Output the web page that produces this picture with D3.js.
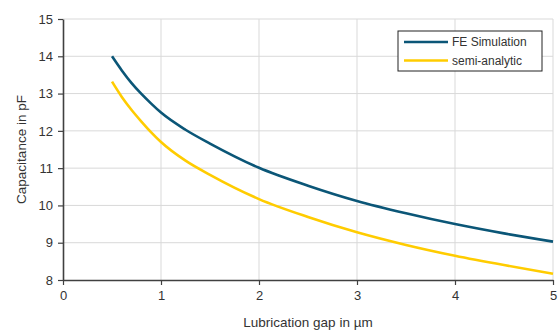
<!DOCTYPE html>
<html>
  <head>
    <meta charset="utf-8">
    <script src="https://d3js.org/d3.v7.min.js"></script>
    <style>
      body { margin: 0; background: #fff; }
      text { font-family: "Liberation Sans", Arial, sans-serif; fill: #333; }
    </style>
  </head>
  <body>
    <svg width="558" height="332"></svg>
    <script>
      // values
      var gap = [0.5, 0.6, 0.7, 0.8, 0.9, 1, 1.25, 1.5, 2, 2.5, 3, 3.5, 4, 4.5, 5];
      var feSim = [14.0, 13.62, 13.28, 12.99, 12.73, 12.49, 12.03, 11.66, 11.01, 10.53, 10.12, 9.79, 9.5, 9.25, 9.03];
      var semiAnalytic = [13.32, 12.91, 12.56, 12.25, 11.96, 11.7, 11.2, 10.82, 10.17, 9.69, 9.28, 8.94, 8.65, 8.4, 8.17];
      var xTicks = [0, 1, 2, 3, 4, 5];
      var yTicks = [8, 9, 10, 11, 12, 13, 14, 15];
      var seriesNames = ["FE Simulation", "semi-analytic"];
      var seriesColors = ["#0b5677", "#ffcc00"];

      var svg = d3.select("svg");
      var x = d3.scaleLinear().domain([0, 5]).range([63, 553]);
      var y = d3.scaleLinear().domain([8, 15]).range([280, 19]);

      // grid
      svg.append("g")
        .selectAll("line")
        .data(xTicks.slice(1))
        .enter()
        .append("line")
        .attr("x1", function (d) { return x(d); })
        .attr("x2", function (d) { return x(d); })
        .attr("y1", y(8))
        .attr("y2", y(15))
        .attr("stroke", "#d9d9d9");
      svg.append("g")
        .selectAll("line")
        .data(yTicks.slice(1))
        .enter()
        .append("line")
        .attr("x1", x(0))
        .attr("x2", x(5))
        .attr("y1", function (d) { return y(d); })
        .attr("y2", function (d) { return y(d); })
        .attr("stroke", "#d9d9d9");

      // axes
      var xAxis = svg.append("g")
        .attr("transform", "translate(0," + y(8) + ")")
        .call(d3.axisBottom(x).tickValues(xTicks).tickFormat(d3.format("d"))
          .tickSize(5).tickPadding(6).tickSizeOuter(0));
      var yAxis = svg.append("g")
        .attr("transform", "translate(" + x(0) + ",0)")
        .call(d3.axisLeft(y).tickValues(yTicks).tickFormat(d3.format("d"))
          .tickSize(5).tickPadding(5).tickSizeOuter(0));
      [xAxis, yAxis].forEach(function (a) {
        a.select(".domain").attr("stroke", "#404040").attr("stroke-width", 1.6);
        a.selectAll(".tick line").attr("stroke", "#404040").attr("stroke-width", 1.2);
        a.selectAll(".tick text")
          .style("font-family", "Liberation Sans, Arial, sans-serif")
          .style("font-size", "13px")
          .attr("fill", "#333");
      });

      svg.append("text")
        .attr("x", (x(0) + x(5)) / 2)
        .attr("y", 327)
        .attr("text-anchor", "middle")
        .style("font-size", "13.5px")
        .text("Lubrication gap in µm");
      svg.append("text")
        .attr("transform", "translate(26," + (y(8) + y(15)) / 2 + ") rotate(-90)")
        .attr("text-anchor", "middle")
        .style("font-size", "13.5px")
        .text("Capacitance in pF");

      // lines
      var series = [feSim, semiAnalytic];
      var line = d3.line()
        .x(function (d, i) { return x(gap[i]); })
        .y(function (d) { return y(d); })
        .curve(d3.curveMonotoneX);
      series.forEach(function (s, k) {
        svg.append("path")
          .attr("fill", "none")
          .attr("stroke", seriesColors[k])
          .attr("stroke-width", 2.6)
          .attr("d", line(s));
      });

      // legend
      var lg = svg.append("g").attr("transform", "translate(398,31)");
      lg.append("rect")
        .attr("width", 144)
        .attr("height", 40)
        .attr("fill", "#fff")
        .attr("stroke", "#222")
        .attr("stroke-width", 1);
      seriesNames.forEach(function (n, k) {
        lg.append("line")
          .attr("x1", 6)
          .attr("x2", 50)
          .attr("y1", 11 + k * 18.5)
          .attr("y2", 11 + k * 18.5)
          .attr("stroke", seriesColors[k])
          .attr("stroke-width", 2.6);
        lg.append("text")
          .attr("x", 54)
          .attr("y", 11 + k * 18.5)
          .attr("dy", "0.35em")
          .style("font-size", "12px")
          .attr("fill", "#111")
          .text(n);
      });
    </script>
  </body>
</html>
